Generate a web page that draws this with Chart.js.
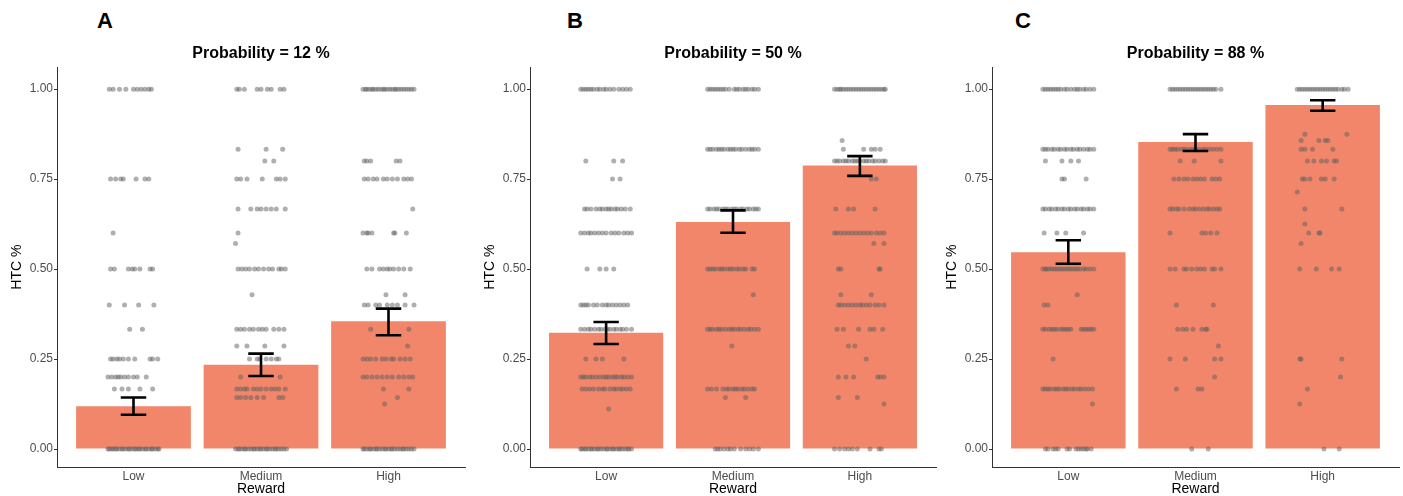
<!DOCTYPE html>
<html>
<head>
<meta charset="utf-8">
<script src="https://cdn.jsdelivr.net/npm/chart.js@4.4.1/dist/chart.umd.min.js"></script>
<style>
  html, body { margin: 0; padding: 0; background: #ffffff; overflow: hidden; width: 1403px; height: 496px; }
  .panel { position: absolute; top: 0; height: 496px; }
  .letter { position: absolute; top: 10px; font-family: "Liberation Sans", Arial, sans-serif; font-weight: bold; font-size: 22px; line-height: 22px; color: #000; }
</style>
</head>
<body>
<div class="letter" style="left:97px">A</div>
<div class="letter" style="left:567px">B</div>
<div class="letter" style="left:1015px">C</div>
<div class="panel" style="left:0px;width:470px"><canvas id="cA" width="470" height="496"></canvas></div>
<div class="panel" style="left:470px;width:470px"><canvas id="cB" width="470" height="496"></canvas></div>
<div class="panel" style="left:940px;width:463px"><canvas id="cC" width="463" height="496"></canvas></div>
<script>
// ---------- data ----------
const categories = ['Low', 'Medium', 'High'];
const yTickValues = [0, 0.25, 0.5, 0.75, 1];
const titles = ['Probability = 12 %', 'Probability = 50 %', 'Probability = 88 %'];

// mean HTC per reward level
const meanA = [0.119, 0.234, 0.355];
const meanB = [0.323, 0.631, 0.788];
const meanC = [0.547, 0.853, 0.956];
// error bar limits (lower, upper)
const errLoA = [0.095, 0.203, 0.316];
const errHiA = [0.143, 0.265, 0.390];
const errLoB = [0.292, 0.601, 0.759];
const errHiB = [0.353, 0.663, 0.814];
const errLoC = [0.515, 0.828, 0.940];
const errHiC = [0.580, 0.875, 0.969];

// individual observations: [HTC value, horizontal jitter offsets]
const ptsA_Low = [
  [1.00, [-0.19,-0.16,-0.11,-0.06,0,0.03,0.06,0.09,0.12,0.14]],
  [0.75, [-0.18,-0.14,-0.10,-0.08,0.02,0.09,0.12]],
  [0.60, [-0.16]],
  [0.50, [-0.18,-0.15,-0.04,-0.01,0.01,0.05,0.13,0.15]],
  [0.40, [-0.19,-0.07,0.04,0.16]],
  [0.333, [-0.03,0.07]],
  [0.25, [-0.18,-0.16,-0.13,-0.11,-0.08,-0.04,0.01,0.13,0.15,0.19]],
  [0.20, [-0.2,-0.17,-0.14,-0.12,-0.1,-0.07,-0.04,0,0.03,0.1]],
  [0.167, [-0.15,-0.09,-0.04,0.05,0.15]],
  [0.00, [-0.2,-0.19,-0.17,-0.16,-0.14,-0.13,-0.11,-0.09,-0.08,-0.06,-0.04,-0.03,-0.01,0.01,0.02,0.04,0.05,0.07,0.09,0.1,0.12,0.14,0.15,0.17,0.19,0.2]]
];
const ptsA_Medium = [
  [1.00, [-0.19,-0.17,-0.13,-0.03,0,0.05,0.08,0.15,0.18]],
  [0.833, [-0.18,0.04,0.17]],
  [0.80, [0.03,0.1]],
  [0.75, [-0.19,-0.16,-0.11,0.01,0.12,0.15,0.19]],
  [0.667, [-0.18,-0.08,-0.03,0,0.04,0.08,0.12,0.19]],
  [0.60, [-0.18]],
  [0.571, [-0.2]],
  [0.50, [-0.18,-0.15,-0.12,-0.09,-0.05,-0.02,0.02,0.06,0.09,0.14,0.16,0.19]],
  [0.429, [-0.07]],
  [0.333, [-0.19,-0.16,-0.13,-0.09,-0.06,-0.02,0.01,0.04,0.1,0.14,0.18]],
  [0.286, [-0.19,-0.11,0.03,0.18]],
  [0.25, [-0.09,-0.03,-0.01,0.04,0.08,0.12,0.14]],
  [0.20, [-0.16,0.15]],
  [0.167, [-0.19,-0.16,-0.13,-0.11,-0.06,-0.03,0,0.04,0.08,0.11,0.14,0.19]],
  [0.143, [-0.19,-0.16,-0.12,-0.08,-0.03,0.02,0.14,0.17]],
  [0.00, [-0.2,-0.18,-0.17,-0.15,-0.13,-0.12,-0.1,-0.08,-0.06,-0.05,-0.03,-0.01,0,0.02,0.04,0.05,0.07,0.09,0.11,0.12,0.14,0.16,0.18,0.2]]
];
const ptsA_High = [
  [1.00, [-0.2,-0.18,-0.17,-0.15,-0.13,-0.12,-0.1,-0.08,-0.06,-0.04,-0.03,-0.01,0.01,0.03,0.05,0.06,0.08,0.1,0.12,0.14,0.16,0.18,0.2]],
  [0.80, [-0.19,-0.17,-0.14,0.06,0.09]],
  [0.75, [-0.19,-0.16,-0.12,-0.09,-0.04,-0.01,0.03,0.07,0.12,0.15,0.18]],
  [0.667, [0.19]],
  [0.60, [-0.2,-0.17,-0.16,-0.13,0.04,0.05,0.14]],
  [0.50, [-0.17,-0.13,-0.07,-0.04,-0.01,0.01,0.04,0.08,0.12,0.17]],
  [0.429, [-0.02,0.13]],
  [0.40, [-0.19,-0.16,-0.1,-0.07,-0.01,0.03,0.07,0.13,0.2]],
  [0.333, [-0.14,0.16]],
  [0.286, [0.15]],
  [0.25, [-0.2,-0.17,-0.14,-0.1,-0.05,-0.02,0.02,0.04,0.09,0.13,0.17]],
  [0.20, [-0.2,-0.17,-0.13,-0.09,-0.05,-0.01,0.03,0.08,0.12,0.16,0.19]],
  [0.167, [-0.04,0.16]],
  [0.143, [0.07]],
  [0.125, [-0.03]],
  [0.00, [-0.2,-0.19,-0.17,-0.15,-0.14,-0.12,-0.1,-0.09,-0.07,-0.05,-0.03,-0.02,0,0.02,0.03,0.05,0.07,0.09,0.11,0.12,0.14,0.16,0.18,0.2]]
];

const ptsB_Low = [
  [1.00, [-0.2,-0.18,-0.16,-0.14,-0.12,-0.1,-0.07,-0.05,-0.02,0,0.03,0.06,0.1,0.13,0.16,0.19]],
  [0.80, [-0.16,0.06,0.13]],
  [0.75, [0.05,0.11]],
  [0.667, [-0.17,-0.15,-0.12,-0.08,-0.05,-0.03,0,0.02,0.04,0.07,0.09,0.12,0.15,0.19]],
  [0.60, [-0.2,-0.17,-0.14,-0.12,-0.09,-0.06,-0.03,0,0.04,0.07,0.1,0.14,0.17,0.2]],
  [0.50, [-0.15,-0.05,0,0.06]],
  [0.40, [-0.2,-0.18,-0.16,-0.14,-0.1,-0.07,-0.03,0,0.02,0.05,0.08,0.11,0.14,0.17]],
  [0.333, [-0.2,-0.17,-0.14,-0.12,-0.09,-0.06,-0.04,-0.01,0.01,0.03,0.06,0.08,0.11,0.13,0.16,0.2]],
  [0.25, [-0.16,-0.08,-0.03,0.14]],
  [0.20, [-0.2,-0.18,-0.16,-0.13,-0.11,-0.08,-0.05,-0.02,0,0.02,0.05,0.07,0.09,0.12,0.14,0.17,0.2]],
  [0.167, [-0.19,-0.16,-0.13,-0.1,-0.06,-0.03,-0.01,0.03,0.06,0.08,0.11,0.13,0.16,0.19]],
  [0.111, [0.02]],
  [0.00, [-0.2,-0.19,-0.17,-0.16,-0.14,-0.12,-0.11,-0.09,-0.07,-0.06,-0.04,-0.02,0,0.01,0.03,0.05,0.06,0.08,0.1,0.11,0.13,0.15,0.17,0.18,0.2]]
];
const ptsB_Medium = [
  [1.00, [-0.2,-0.18,-0.16,-0.14,-0.12,-0.1,-0.08,-0.06,-0.03,0.01,0.03,0.05,0.08,0.1,0.12,0.15,0.17,0.2]],
  [0.833, [-0.2,-0.18,-0.16,-0.13,-0.11,-0.09,-0.07,-0.04,-0.02,0,0.02,0.05,0.07,0.1,0.13,0.15,0.17,0.2]],
  [0.667, [-0.2,-0.18,-0.15,-0.13,-0.11,-0.08,-0.06,-0.04,-0.01,0.01,0.03,0.06,0.08,0.11,0.13,0.16,0.18,0.2]],
  [0.50, [-0.2,-0.18,-0.16,-0.14,-0.11,-0.09,-0.07,-0.04,-0.02,0,0.03,0.05,0.08,0.1,0.15,0.17]],
  [0.429, [0.16]],
  [0.333, [-0.2,-0.18,-0.16,-0.13,-0.11,-0.09,-0.06,-0.03,-0.01,0.01,0.04,0.06,0.09,0.12,0.14,0.17,0.2]],
  [0.286, [-0.01]],
  [0.167, [-0.2,-0.17,-0.13,-0.08,-0.05,-0.03,0,0.02,0.04,0.07,0.09,0.12,0.15,0.17]],
  [0.143, [-0.06,0.1]],
  [0.00, [-0.14,-0.12,-0.1,-0.07,-0.04,-0.02,0.01,0.06,0.1,0.13,0.16,0.2]]
];
const ptsB_High = [
  [1.00, [-0.2,-0.18,-0.16,-0.15,-0.13,-0.11,-0.09,-0.07,-0.05,-0.03,-0.01,0.01,0.03,0.05,0.07,0.09,0.11,0.13,0.15,0.17,0.19,0.2]],
  [0.857, [-0.14]],
  [0.833, [-0.13,0.03,0.09,0.12,0.16]],
  [0.80, [-0.2,-0.18,-0.16,-0.13,-0.11,-0.09,-0.06,-0.04,-0.02,0,0.03,0.05,0.07,0.1,0.12,0.15,0.18,0.2]],
  [0.75, [0.09,0.13]],
  [0.667, [-0.19,-0.09,-0.05,0.12]],
  [0.60, [-0.2,-0.18,-0.15,-0.12,-0.09,-0.06,-0.03,0,0.03,0.06,0.09,0.13,0.16,0.19]],
  [0.571, [0.11,0.19]],
  [0.50, [-0.17,-0.15,0.15,0.16]],
  [0.429, [-0.15,0.09]],
  [0.40, [-0.17,-0.15,-0.12,-0.09,-0.06,-0.03,0,0.02,0.05,0.08,0.12,0.15,0.19]],
  [0.333, [-0.18,-0.13,-0.01,0.08,0.11,0.18]],
  [0.286, [-0.09,-0.04]],
  [0.25, [0.05]],
  [0.20, [-0.17,-0.11,-0.05,0.14,0.16,0.19]],
  [0.143, [-0.17,-0.02]],
  [0.125, [0.19]],
  [0.00, [-0.2,-0.16,-0.12,-0.09,-0.06,-0.02,0.08,0.15,0.17]]
];

const ptsC_Low = [
  [1.00, [-0.2,-0.18,-0.16,-0.14,-0.12,-0.1,-0.08,-0.06,-0.03,-0.01,0.02,0.05,0.07,0.09,0.12,0.14,0.17,0.2]],
  [0.833, [-0.2,-0.18,-0.16,-0.13,-0.11,-0.08,-0.06,-0.03,-0.01,0.02,0.04,0.07,0.09,0.12,0.15,0.17,0.2]],
  [0.80, [-0.18,-0.05,0.02,0.08]],
  [0.75, [-0.05,-0.03,0.14]],
  [0.667, [-0.2,-0.18,-0.15,-0.13,-0.1,-0.08,-0.05,-0.03,0,0.02,0.05,0.07,0.1,0.12,0.15,0.17,0.2]],
  [0.60, [-0.19,-0.09,-0.02,0.12]],
  [0.50, [-0.2,-0.18,-0.17,-0.15,-0.13,-0.11,-0.09,-0.07,-0.05,-0.03,-0.01,0.01,0.03,0.05,0.07,0.09,0.12,0.14,0.17,0.2]],
  [0.429, [0.07]],
  [0.40, [-0.19,-0.16]],
  [0.333, [-0.2,-0.18,-0.15,-0.13,-0.11,-0.09,-0.06,-0.04,-0.02,0,0.02,0.1,0.12,0.14,0.16,0.18,0.2]],
  [0.25, [-0.12]],
  [0.167, [-0.2,-0.18,-0.16,-0.14,-0.11,-0.09,-0.07,-0.04,-0.02,0,0.03,0.05,0.08,0.1,0.13,0.16,0.19]],
  [0.125, [0.19]],
  [0.00, [-0.18,-0.16,-0.12,-0.1,-0.08,-0.01,0.01,0.06,0.08,0.1,0.12,0.14,0.15,0.18]]
];
const ptsC_Medium = [
  [1.00, [-0.2,-0.18,-0.16,-0.14,-0.12,-0.1,-0.08,-0.06,-0.04,-0.02,0,0.02,0.04,0.06,0.08,0.1,0.12,0.14,0.16,0.2]],
  [0.833, [-0.2,-0.18,-0.16,-0.14,-0.11,-0.09,-0.07,-0.04,-0.02,0,0.03,0.06,0.08,0.11,0.14,0.17,0.2]],
  [0.80, [-0.12,-0.01,0.2]],
  [0.75, [-0.17,-0.13,-0.09,-0.06,-0.02,0.01,0.04,0.07,0.13,0.16,0.19]],
  [0.667, [-0.2,-0.18,-0.15,-0.13,-0.09,-0.05,-0.02,0,0.03,0.06,0.09,0.11,0.14,0.17,0.19]],
  [0.60, [-0.2,0.05,0.08,0.12,0.17]],
  [0.50, [-0.2,-0.16,-0.09,-0.07,-0.03,0.01,0.04,0.07,0.13,0.15,0.2]],
  [0.40, [-0.15,0.14]],
  [0.333, [-0.14,-0.1,-0.07,-0.02,0.05,0.08,0.09]],
  [0.286, [0.18]],
  [0.25, [-0.2,-0.08,0.15,0.2]],
  [0.20, [0.15]],
  [0.167, [-0.15,0.02,0.05]],
  [0.00, [-0.03,0.1]]
];
const ptsC_High = [
  [1.00, [-0.2,-0.18,-0.16,-0.14,-0.12,-0.1,-0.08,-0.06,-0.04,-0.02,0,0.02,0.04,0.06,0.08,0.1,0.12,0.15,0.17,0.2]],
  [0.875, [-0.14,0.19]],
  [0.857, [-0.17,-0.03,0.02,0.04]],
  [0.833, [-0.17,-0.14,-0.08,0.08]],
  [0.80, [-0.12,-0.07,-0.01,0.03,0.09,0.11]],
  [0.75, [-0.16,-0.14,-0.1,-0.01,0.02,0.09]],
  [0.714, [-0.2]],
  [0.667, [-0.14,0.15]],
  [0.625, [-0.14]],
  [0.60, [-0.11,-0.03,-0.02]],
  [0.571, [-0.17]],
  [0.50, [-0.18,-0.05,0.07,0.13]],
  [0.25, [-0.18,-0.17,0.15]],
  [0.20, [0.14]],
  [0.167, [-0.12]],
  [0.125, [-0.18]],
  [0.00, [0.01,0.13]]
];

// ---------- styling ----------
const BAR_COLOR = '#F1866A';
const POINT_COLOR = 'rgba(96,96,96,0.5)';
const AXIS_COLOR = '#333333';
const TICK_TEXT = '#4d4d4d';
const CAP_HALF = 0.1;   // half width of error-bar caps, in category units
const FONT = '"Liberation Sans", Arial, Helvetica, sans-serif';

Chart.defaults.font.family = FONT;

function jitterData(rows, catIndex) {
  const out = [];
  rows.forEach(([y, offs]) => offs.forEach(o => out.push({ x: catIndex + 1 + o, y: y })));
  return out;
}

function errorData(lo, hi) {
  const out = [];
  lo.forEach((l, i) => {
    const c = i + 1, h = hi[i];
    out.push({x: c - CAP_HALF, y: h}, {x: c + CAP_HALF, y: h}, {x: c, y: null});
    out.push({x: c, y: h}, {x: c, y: l}, {x: c, y: null});
    out.push({x: c - CAP_HALF, y: l}, {x: c + CAP_HALF, y: l}, {x: c, y: null});
  });
  return out;
}

function makePanel(id, title, means, lo, hi, pointSets, pad) {
  const datasets = [
    {
      type: 'line', label: 'SE', data: errorData(lo, hi), order: 0,
      borderColor: '#000', borderWidth: 2.6, pointRadius: 0, spanGaps: false,
      borderCapStyle: 'butt', fill: false, tension: 0
    },
    {
      type: 'scatter', label: 'Observations', order: 1,
      data: pointSets.flatMap((rows, i) => jitterData(rows, i)),
      pointRadius: 2.5, pointBackgroundColor: POINT_COLOR, pointBorderWidth: 0,
      backgroundColor: POINT_COLOR, borderWidth: 0
    },
    {
      type: 'bar', label: 'Mean', order: 2,
      data: means.map((m, i) => ({ x: i + 1, y: m })),
      backgroundColor: BAR_COLOR, borderWidth: 0,
      barPercentage: 0.9, categoryPercentage: 1.0
    }
  ];
  new Chart(document.getElementById(id), {
    type: 'bar',
    data: { datasets },
    options: {
      responsive: false, animation: false, events: [],
      layout: { padding: { left: pad.left, right: pad.right, top: 44, bottom: 0 } },
      plugins: {
        legend: { display: false },
        tooltip: { enabled: false },
        title: {
          display: true, text: title, fullSize: false, color: '#000',
          font: { size: 16, weight: 'bold', family: FONT, lineHeight: 1.2 },
          padding: { top: 0, bottom: 4 }
        }
      },
      scales: {
        x: {
          type: 'linear', min: 0.4, max: 3.6, offset: false,
          afterBuildTicks: s => { s.ticks = categories.map((c, i) => ({ value: i + 1 })); },
          ticks: {
            callback: v => categories[Math.round(v) - 1],
            color: TICK_TEXT, font: { size: 12, family: FONT }, padding: 2,
            maxRotation: 0, autoSkip: false
          },
          grid: { display: false, offset: false, drawOnChartArea: false, drawTicks: false },
          border: { display: true, color: AXIS_COLOR, width: 1 },
          title: { display: true, text: 'Reward', color: '#000', font: { size: 14, family: FONT, lineHeight: 1 }, padding: { top: 0, bottom: 0 } },
          afterFit: s => { s.height = 29; }
        },
        y: {
          type: 'linear', min: -0.05, max: 1.061,
          afterBuildTicks: s => { s.ticks = yTickValues.map(v => ({ value: v })); },
          ticks: {
            callback: v => Number(v).toFixed(2),
            color: TICK_TEXT, font: { size: 12, family: FONT }, padding: 1
          },
          grid: { display: true, drawOnChartArea: false, drawTicks: true, tickLength: 3, color: AXIS_COLOR },
          border: { display: true, color: AXIS_COLOR, width: 1 },
          title: { display: true, text: 'HTC %', color: '#000', font: { size: 14, family: FONT, lineHeight: 1.2 }, padding: { top: 4, bottom: 0 } },
          afterFit: s => { s.width = 52; }
        }
      }
    }
  });
}

makePanel('cA', titles[0], meanA, errLoA, errHiA, [ptsA_Low, ptsA_Medium, ptsA_High], { left: 5, right: 5 });
makePanel('cB', titles[1], meanB, errLoB, errHiB, [ptsB_Low, ptsB_Medium, ptsB_High], { left: 8, right: 2 });
makePanel('cC', titles[2], meanC, errLoC, errHiC, [ptsC_Low, ptsC_Medium, ptsC_High], { left: 0, right: 2 });
</script>
</body>
</html>
